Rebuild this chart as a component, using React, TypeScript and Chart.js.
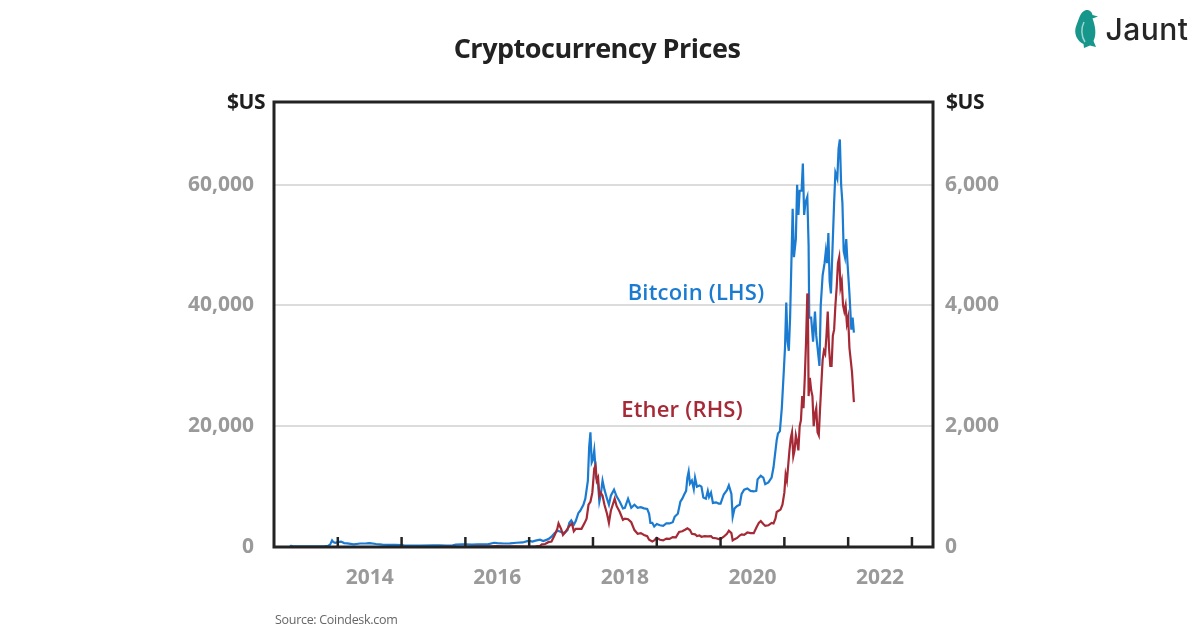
import React, { useEffect, useRef } from "react";
import { Chart, registerables } from "chart.js";

Chart.register(...registerables);

// ---- Data (decimal year, price in $US) ----
const bitcoin: [number, number][] = [
  [2013.25, 140], [2013.27, 200], [2013.3, 120], [2013.4, 110], [2013.5, 90], [2013.6, 105],
  [2013.7, 125], [2013.8, 140], [2013.85, 200], [2013.88, 400], [2013.91, 1100], [2013.93, 800],
  [2013.96, 700], [2014.0, 800], [2014.05, 900], [2014.1, 650], [2014.15, 600], [2014.25, 450],
  [2014.35, 580], [2014.45, 600], [2014.5, 630], [2014.6, 500], [2014.7, 400], [2014.8, 360],
  [2014.9, 350], [2015.0, 300], [2015.05, 220], [2015.15, 250], [2015.3, 230], [2015.5, 260],
  [2015.6, 280], [2015.7, 230], [2015.8, 280], [2015.85, 380], [2015.95, 430], [2016.0, 430],
  [2016.1, 380], [2016.2, 420], [2016.35, 450], [2016.45, 700], [2016.5, 650], [2016.6, 580],
  [2016.7, 610], [2016.8, 700], [2016.9, 750], [2016.97, 960], [2017.0, 1000], [2017.05, 900],
  [2017.1, 1050], [2017.17, 1200], [2017.22, 1000], [2017.3, 1300], [2017.35, 1700], [2017.4, 2300],
  [2017.45, 2700], [2017.5, 2500], [2017.55, 2300], [2017.6, 2800], [2017.63, 4000], [2017.66, 4400],
  [2017.7, 3700], [2017.73, 4300], [2017.77, 5600], [2017.8, 6000], [2017.85, 7000], [2017.88, 8000],
  [2017.92, 11000], [2017.94, 16500], [2017.96, 19000], [2017.98, 14000], [2018.0, 14500], [2018.02, 16000],
  [2018.05, 11500], [2018.08, 10500], [2018.1, 7500], [2018.12, 8500], [2018.15, 11000], [2018.18, 9500],
  [2018.22, 8000], [2018.25, 7000], [2018.28, 8500], [2018.33, 9500], [2018.37, 8400], [2018.42, 7500],
  [2018.47, 6400], [2018.5, 6500], [2018.55, 8000], [2018.6, 6500], [2018.65, 7000], [2018.7, 6500],
  [2018.75, 6600], [2018.8, 6400], [2018.85, 6300], [2018.88, 5500], [2018.9, 4000], [2018.93, 4000],
  [2018.96, 3400], [2019.0, 3800], [2019.05, 3600], [2019.1, 3500], [2019.15, 3900], [2019.2, 3900],
  [2019.25, 4100], [2019.28, 5000], [2019.33, 5500], [2019.37, 7500], [2019.4, 8000], [2019.43, 8700],
  [2019.46, 9300], [2019.48, 11500], [2019.5, 12500], [2019.52, 10500], [2019.55, 11000], [2019.58, 9600],
  [2019.6, 11500], [2019.63, 10000], [2019.67, 10200], [2019.7, 10000], [2019.73, 8200], [2019.77, 8000],
  [2019.8, 9300], [2019.82, 8300], [2019.85, 9000], [2019.88, 7300], [2019.93, 7400], [2019.97, 7200],
  [2020.0, 7200], [2020.05, 8700], [2020.1, 9400], [2020.13, 10200], [2020.17, 8800], [2020.19, 5000],
  [2020.22, 6400], [2020.26, 6800], [2020.3, 7000], [2020.33, 8800], [2020.37, 9500], [2020.42, 9700],
  [2020.47, 9300], [2020.52, 9200], [2020.56, 9300], [2020.58, 11200], [2020.63, 11800], [2020.67, 11500],
  [2020.7, 10400], [2020.75, 10700], [2020.8, 11500], [2020.83, 13200], [2020.85, 15000], [2020.88, 17700],
  [2020.9, 18800], [2020.93, 19200], [2020.96, 23000], [2020.99, 28900], [2021.01, 33000], [2021.03, 40500],
  [2021.05, 34000], [2021.07, 32500], [2021.09, 38000], [2021.11, 47000], [2021.13, 56000], [2021.15, 48000],
  [2021.18, 51000], [2021.2, 60000], [2021.22, 55000], [2021.24, 59000], [2021.27, 59000], [2021.29, 63500],
  [2021.31, 55000], [2021.33, 57000], [2021.36, 58000], [2021.38, 50000], [2021.39, 38000], [2021.42, 38000],
  [2021.45, 34000], [2021.48, 39000], [2021.5, 35000], [2021.52, 33000], [2021.55, 30000], [2021.57, 40000],
  [2021.6, 45000], [2021.63, 47000], [2021.65, 49000], [2021.67, 47000], [2021.69, 52000], [2021.71, 44000],
  [2021.73, 42000], [2021.75, 48000], [2021.78, 57000], [2021.8, 62000], [2021.83, 61000], [2021.85, 66000],
  [2021.87, 67500], [2021.89, 60000], [2021.91, 57000], [2021.93, 49000], [2021.95, 48000], [2021.97, 51000],
  [2021.99, 47000], [2022.02, 42000], [2022.05, 36000], [2022.07, 38000], [2022.09, 35500],
];

const ether: [number, number][] = [
  [2015.6, 1], [2015.8, 1], [2016.0, 1], [2016.2, 10], [2016.4, 12], [2016.5, 14], [2016.6, 11],
  [2016.8, 10], [2017.0, 8], [2017.1, 11], [2017.17, 18], [2017.2, 45], [2017.25, 50], [2017.3, 80],
  [2017.35, 90], [2017.4, 200], [2017.44, 300], [2017.46, 390], [2017.5, 300], [2017.53, 200],
  [2017.56, 240], [2017.6, 300], [2017.63, 350], [2017.67, 390], [2017.7, 260], [2017.73, 300],
  [2017.77, 300], [2017.82, 300], [2017.87, 400], [2017.9, 470], [2017.93, 700], [2017.96, 750],
  [2017.99, 900], [2018.02, 1300], [2018.04, 1350], [2018.06, 1100], [2018.08, 1150], [2018.1, 850],
  [2018.12, 900], [2018.15, 850], [2018.18, 700], [2018.22, 550], [2018.25, 400], [2018.28, 600],
  [2018.31, 700], [2018.34, 800], [2018.37, 680], [2018.42, 580], [2018.47, 450], [2018.5, 470],
  [2018.55, 460], [2018.6, 410], [2018.65, 280], [2018.7, 220], [2018.75, 230], [2018.8, 200],
  [2018.85, 180], [2018.88, 120], [2018.93, 90], [2018.96, 110], [2019.0, 150], [2019.05, 120],
  [2019.1, 110], [2019.15, 140], [2019.2, 135], [2019.25, 165], [2019.3, 160], [2019.35, 250],
  [2019.4, 260], [2019.45, 290], [2019.48, 310], [2019.52, 280], [2019.55, 220], [2019.6, 210],
  [2019.63, 180], [2019.67, 190], [2019.7, 170], [2019.75, 180], [2019.8, 175], [2019.85, 180],
  [2019.88, 150], [2019.93, 145], [2019.97, 130], [2020.0, 135], [2020.05, 170], [2020.1, 220],
  [2020.13, 270], [2020.17, 230], [2020.19, 110], [2020.22, 130], [2020.26, 150], [2020.3, 190],
  [2020.33, 210], [2020.37, 200], [2020.42, 240], [2020.47, 230], [2020.52, 230], [2020.56, 320],
  [2020.6, 400], [2020.63, 430], [2020.67, 380], [2020.7, 350], [2020.75, 360], [2020.8, 400],
  [2020.83, 390], [2020.86, 470], [2020.88, 580], [2020.91, 600], [2020.94, 620], [2020.97, 700],
  [2021.0, 900], [2021.02, 1200], [2021.04, 1100], [2021.06, 1350], [2021.08, 1600], [2021.1, 1800],
  [2021.12, 1900], [2021.14, 1500], [2021.16, 1600], [2021.18, 1850], [2021.2, 1750], [2021.22, 1600],
  [2021.24, 2000], [2021.26, 2100], [2021.28, 2500], [2021.3, 2300], [2021.32, 2800], [2021.34, 3400],
  [2021.36, 4200], [2021.37, 3900], [2021.38, 2500], [2021.4, 2800], [2021.42, 2600], [2021.44, 2500],
  [2021.46, 2000], [2021.48, 2200], [2021.5, 2300], [2021.52, 1900], [2021.54, 1850], [2021.56, 2300],
  [2021.58, 2700], [2021.6, 3100], [2021.62, 3250], [2021.64, 3200], [2021.66, 3500], [2021.68, 3900],
  [2021.7, 3300], [2021.72, 3000], [2021.74, 3000], [2021.76, 3500], [2021.78, 3600], [2021.8, 4000],
  [2021.82, 4300], [2021.84, 4700], [2021.86, 4800], [2021.88, 4300], [2021.9, 4400], [2021.92, 4000],
  [2021.94, 3900], [2021.96, 4000], [2021.98, 3700], [2022.0, 3800], [2022.02, 3300], [2022.04, 3100],
  [2022.06, 2900], [2022.09, 2400],
];

const xLabelYears = [2014, 2016, 2018, 2020, 2022];
const xTickYears = [2014, 2015, 2016, 2017, 2018, 2019, 2020, 2021, 2022, 2023];
const leftTicks = [0, 20000, 40000, 60000];
const rightTicks = [0, 2000, 4000, 6000];
const X_MIN = 2013;
const X_MAX = 2023.33;
const LEFT_MAX = 73700;
const RIGHT_MAX = 7370;

const BLUE = "#1a7bd0";
const RED = "#a52a36";
const FONT = "'Open Sans', 'Noto Sans', sans-serif";

const framePlugin = {
  id: "frame",
  afterDraw(chart: any) {
    const { ctx, chartArea } = chart;
    const xs = chart.scales.x;
    ctx.save();
    ctx.strokeStyle = "#232323";
    ctx.lineWidth = 2.5;
    xTickYears.forEach((yr) => {
      const px = xs.getPixelForValue(yr);
      ctx.beginPath();
      ctx.moveTo(px, chartArea.bottom);
      ctx.lineTo(px, chartArea.bottom - 10);
      ctx.stroke();
    });
    ctx.lineWidth = 3;
    ctx.strokeRect(chartArea.left, chartArea.top, chartArea.right - chartArea.left, chartArea.bottom - chartArea.top);
    ctx.restore();
  },
};

function ChartView() {
  const ref = useRef<HTMLCanvasElement | null>(null);
  useEffect(() => {
    if (!ref.current) return;
    const tickFont = { family: FONT, size: 21, weight: "700" };
    const chart = new Chart(ref.current, {
      type: "line",
      data: {
        datasets: [
          {
            label: "Ether (RHS)",
            data: ether.map(([x, y]) => ({ x, y })),
            yAxisID: "y2",
            borderColor: RED,
            borderWidth: 2.2,
            pointRadius: 0,
            tension: 0,
            order: 0,
          },
          {
            label: "Bitcoin (LHS)",
            data: bitcoin.map(([x, y]) => ({ x, y })),
            yAxisID: "y",
            borderColor: BLUE,
            borderWidth: 2.2,
            pointRadius: 0,
            tension: 0,
            order: 1,
          },
        ],
      },
      options: {
        animation: false,
        responsive: false,
        maintainAspectRatio: false,
        layout: { padding: { top: 102, left: 0, right: 0, bottom: 0 } },
        plugins: { legend: { display: false }, tooltip: { enabled: false } },
        scales: {
          x: {
            type: "linear",
            min: X_MIN,
            max: X_MAX,
            grid: { display: false, drawTicks: false },
            border: { display: false },
            afterBuildTicks: (s: any) => {
              s.ticks = xLabelYears.map((v) => ({ value: v + 0.5 }));
            },
            afterFit: (s: any) => {
              s.height = 630 - 547;
            },
            ticks: {
              padding: 18,
              color: "#9a9a9a",
              font: tickFont,
              maxRotation: 0,
              autoSkip: false,
              callback: (v: any) => String(Math.floor(Number(v))),
            },
          },
          y: {
            position: "left",
            min: 0,
            max: LEFT_MAX,
            afterBuildTicks: (s: any) => {
              s.ticks = leftTicks.map((v) => ({ value: v }));
            },
            afterFit: (s: any) => {
              s.width = 274;
            },
            grid: { color: "#dcdcdc", lineWidth: 2, drawTicks: false },
            border: { display: false },
            ticks: {
              padding: 20,
              color: "#9a9a9a",
              font: tickFont,
              callback: (v: any) => Number(v).toLocaleString("en-US"),
            },
          },
          y2: {
            position: "right",
            min: 0,
            max: RIGHT_MAX,
            afterBuildTicks: (s: any) => {
              s.ticks = rightTicks.map((v) => ({ value: v }));
            },
            afterFit: (s: any) => {
              s.width = 1200 - 933;
            },
            grid: { display: false, drawTicks: false },
            border: { display: false },
            ticks: {
              padding: 12,
              color: "#9a9a9a",
              font: tickFont,
              callback: (v: any) => Number(v).toLocaleString("en-US"),
            },
          },
        },
      },
      plugins: [framePlugin],
    } as any);
    return () => chart.destroy();
  }, []);
  return <canvas ref={ref} width={1200} height={630} style={{ position: "absolute", left: 0, top: 0 }} />;
}

const abs = (x: number, y: number, extra: React.CSSProperties): React.CSSProperties => ({
  position: "absolute",
  left: x,
  top: y,
  transform: "translate(-50%, -50%)",
  whiteSpace: "nowrap",
  fontFamily: FONT,
  lineHeight: 1,
  ...extra,
});

export default function App() {
  return (
    <div style={{ position: "fixed", left: 0, top: 0, width: 1200, height: 630, background: "#fff", overflow: "hidden" }}>
      <ChartView />
      <div style={abs(597, 47, { fontSize: 27, fontWeight: 700, color: "#222", letterSpacing: -0.5 })}>Cryptocurrency Prices</div>
      <div style={abs(246, 101, { fontSize: 21, fontWeight: 700, color: "#1e1e1e", letterSpacing: -0.5 })}>$US</div>
      <div style={abs(965, 101, { fontSize: 21, fontWeight: 700, color: "#1e1e1e", letterSpacing: -0.5 })}>$US</div>
      <div style={abs(696, 291, { fontSize: 22, fontWeight: 600, color: BLUE, letterSpacing: 0.2 })}>Bitcoin (LHS)</div>
      <div style={abs(682, 408, { fontSize: 22, fontWeight: 600, color: RED, letterSpacing: 0.2 })}>Ether (RHS)</div>
      <div style={{ position: "absolute", left: 275, top: 614, fontFamily: FONT, fontSize: 12.5, color: "#666", lineHeight: 1, letterSpacing: -0.3 }}>
        Source: Coindesk.com
      </div>
      <svg style={{ position: "absolute", left: 1070, top: 8 }} width="30" height="42" viewBox="0 0 30 42">
        <path
          d="M16 2 C20 2 22 4 22.5 7 L28 8.5 L22.5 10.5 C25 17 27 26 23.5 33 L26 39 L20 37.5 L14 40 L13.5 36 C7 33 3 25 6.5 17 C9 11 10 4 16 2 Z"
          fill="#17968b"
        />
        <path d="M14 14 C11 20 11 28 15 34" stroke="#ffffff" strokeWidth="1.5" fill="none" opacity="0.6" />
      </svg>
      <div style={abs(1147, 29, { fontSize: 30, fontWeight: 500, color: "#262626", fontFamily: "Inter, 'Noto Sans', sans-serif", letterSpacing: 0.5 })}>
        Jaunt
      </div>
    </div>
  );
}
